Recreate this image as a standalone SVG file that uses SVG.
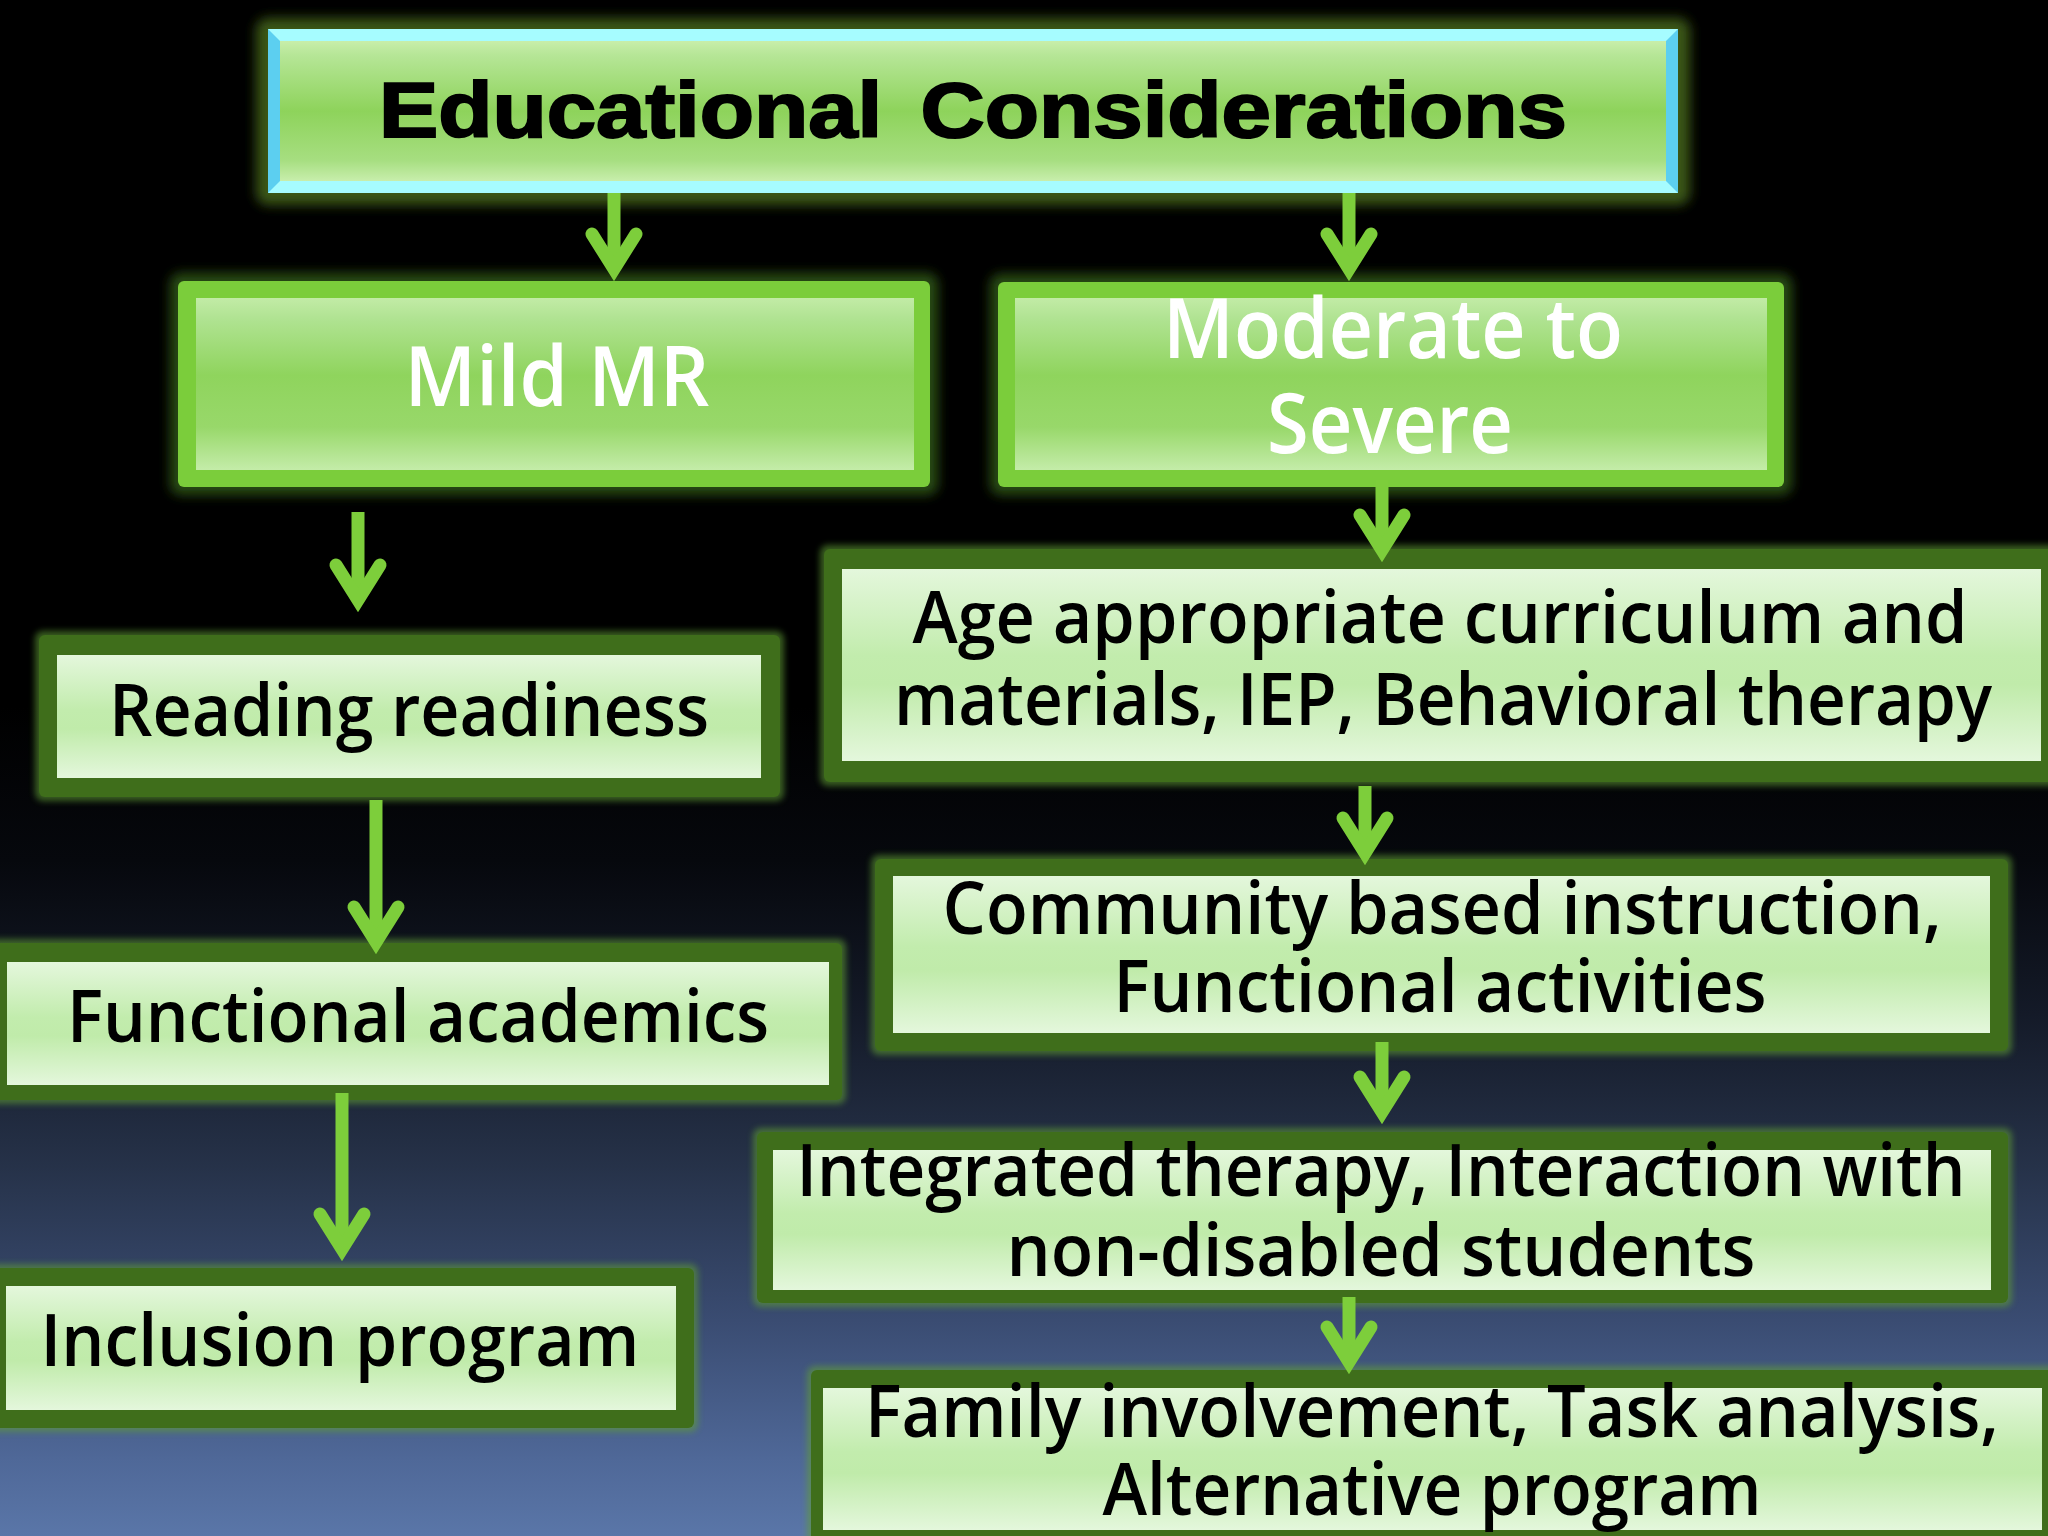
<svg xmlns="http://www.w3.org/2000/svg" width="2048" height="1536" viewBox="0 0 2048 1536">
<defs>
<linearGradient id="bg" x1="0" y1="0" x2="0" y2="1536" gradientUnits="userSpaceOnUse">
<stop offset="0" stop-color="#000000"/>
<stop offset="0.46" stop-color="#000000"/>
<stop offset="0.56" stop-color="#06080d"/>
<stop offset="0.66" stop-color="#141a28"/>
<stop offset="0.76" stop-color="#263249"/>
<stop offset="0.86" stop-color="#3a4c72"/>
<stop offset="0.95" stop-color="#4f6898"/>
<stop offset="1" stop-color="#5a76a8"/>
</linearGradient>
<linearGradient id="paleFill" x1="0" y1="0" x2="0" y2="1">
<stop offset="0" stop-color="#e4f7dc"/>
<stop offset="0.45" stop-color="#c2ecad"/>
<stop offset="0.6" stop-color="#c0ebaa"/>
<stop offset="1" stop-color="#e4f7dc"/>
</linearGradient>
<linearGradient id="brightFill" x1="0" y1="0" x2="0" y2="1">
<stop offset="0" stop-color="#c2eba6"/>
<stop offset="0.12" stop-color="#b0e392"/>
<stop offset="0.45" stop-color="#8fd45d"/>
<stop offset="0.75" stop-color="#98d86a"/>
<stop offset="1" stop-color="#c4eca9"/>
</linearGradient>
<linearGradient id="titleFill" x1="0" y1="0" x2="0" y2="1">
<stop offset="0" stop-color="#c8eeaa"/>
<stop offset="0.1" stop-color="#b6e697"/>
<stop offset="0.5" stop-color="#8ed35b"/>
<stop offset="0.85" stop-color="#a6de80"/>
<stop offset="1" stop-color="#c8eeac"/>
</linearGradient>
<filter id="blur6" x="-10%" y="-20%" width="120%" height="140%"><feGaussianBlur stdDeviation="6"/></filter>
<filter id="blur3" x="-10%" y="-20%" width="120%" height="140%"><feGaussianBlur stdDeviation="3"/></filter>
<marker id="ah" markerUnits="userSpaceOnUse" orient="auto" refX="0" refY="0" markerWidth="80" markerHeight="80" overflow="visible">
<path d="M-28,-22 L7,0 L-28,22" fill="none" stroke="#7dce3b" stroke-width="13" stroke-linecap="round" stroke-linejoin="miter" stroke-miterlimit="6"/>
</marker>
<style>
.pale-glow{fill:#5e9c36;opacity:0.6;filter:url(#blur3)}
.pale-border{fill:#3f6e1b}
.pale-inner{fill:url(#paleFill)}
.bright-glow{fill:#2f5514;opacity:0.9;filter:url(#blur6)}
.bright-border{fill:#7bcd3b}
.bright-inner{fill:url(#brightFill)}
.t{font-family:"Open Sans","Noto Sans","DejaVu Sans",sans-serif;font-size:72px;font-weight:600;fill:#000;text-anchor:middle}
.tw{font-family:"Open Sans","Noto Sans","DejaVu Sans",sans-serif;font-size:84px;font-weight:600;fill:#ffffff;text-anchor:middle}
.conn line{stroke:#7dce3b;stroke-width:13;marker-end:url(#ah)}
</style>
</defs>
<rect x="0" y="0" width="2048" height="1536" fill="url(#bg)"/>

<g id="title">
<rect x="256" y="18" width="1434" height="187" rx="12" fill="#3a5714" filter="url(#blur6)"/>
<rect x="268" y="29" width="1410" height="164" fill="#a6fcff"/>
<polygon points="268,29 280,41 280,181 268,193" fill="#5ccff0"/>
<polygon points="1678,29 1666,41 1666,181 1678,193" fill="#5ccff0"/>
<rect x="280" y="41" width="1386" height="140" fill="url(#titleFill)"/>
<text x="973" y="137" font-family="'Liberation Sans',Arial,sans-serif" font-weight="700" font-size="78" word-spacing="12" text-anchor="middle" textLength="1188" lengthAdjust="spacingAndGlyphs" fill="#000" stroke="#000" stroke-width="2">Educational Considerations</text>
</g>

<g id="mild">
<rect x="170" y="273" width="768" height="222" rx="10" class="bright-glow"/>
<rect x="178" y="281" width="752" height="206" rx="6" class="bright-border"/>
<rect x="196" y="298" width="718" height="172" class="bright-inner"/>
<text x="557" y="406" class="tw" textLength="305" lengthAdjust="spacingAndGlyphs">Mild MR</text>
</g>

<g id="moderate">
<rect x="990" y="274" width="802" height="221" rx="10" class="bright-glow"/>
<rect x="998" y="282" width="786" height="205" rx="6" class="bright-border"/>
<rect x="1015" y="298" width="752" height="172" class="bright-inner"/>
<text x="1393" y="358" class="tw" textLength="460" lengthAdjust="spacingAndGlyphs">Moderate to</text>
<text x="1390" y="453" class="tw" textLength="246" lengthAdjust="spacingAndGlyphs">Severe</text>
</g>

<g id="reading">
<rect x="35" y="631" width="749" height="170" rx="8" class="pale-glow"/>
<rect x="39" y="635" width="741" height="162" rx="6" class="pale-border"/>
<rect x="57" y="655" width="704" height="123" class="pale-inner"/>
<text x="409" y="736" class="t" textLength="600" lengthAdjust="spacingAndGlyphs">Reading readiness</text>
</g>

<g id="functional">
<rect x="-20" y="939" width="866" height="165" rx="8" class="pale-glow"/>
<rect x="-16" y="943" width="858" height="157" rx="6" class="pale-border"/>
<rect x="7" y="962" width="822" height="123" class="pale-inner"/>
<text x="418" y="1042" class="t" textLength="702" lengthAdjust="spacingAndGlyphs">Functional academics</text>
</g>

<g id="inclusion">
<rect x="-20" y="1264" width="718" height="168" rx="8" class="pale-glow"/>
<rect x="-16" y="1268" width="710" height="160" rx="6" class="pale-border"/>
<rect x="6" y="1286" width="670" height="124" class="pale-inner"/>
<text x="340" y="1366" class="t" textLength="599" lengthAdjust="spacingAndGlyphs">Inclusion program</text>
</g>

<g id="age">
<rect x="820" y="545" width="1250" height="241" rx="8" class="pale-glow"/>
<rect x="824" y="549" width="1240" height="233" rx="6" class="pale-border"/>
<rect x="842" y="569" width="1199" height="192" class="pale-inner"/>
<text x="1440" y="643" class="t" textLength="1055" lengthAdjust="spacingAndGlyphs">Age appropriate curriculum and</text>
<text x="1443" y="725" class="t" textLength="1098" lengthAdjust="spacingAndGlyphs">materials, IEP, Behavioral therapy</text>
</g>

<g id="community">
<rect x="871" y="855" width="1141" height="200" rx="8" class="pale-glow"/>
<rect x="875" y="859" width="1133" height="192" rx="6" class="pale-border"/>
<rect x="893" y="876" width="1097" height="157" class="pale-inner"/>
<text x="1442" y="934" class="t" textLength="999" lengthAdjust="spacingAndGlyphs">Community based instruction,</text>
<text x="1440" y="1012" class="t" textLength="653" lengthAdjust="spacingAndGlyphs">Functional activities</text>
</g>

<g id="integrated">
<rect x="753" y="1128" width="1259" height="179" rx="8" class="pale-glow"/>
<rect x="757" y="1132" width="1251" height="171" rx="6" class="pale-border"/>
<rect x="773" y="1150" width="1218" height="140" class="pale-inner"/>
<text x="1381" y="1196" class="t" textLength="1169" lengthAdjust="spacingAndGlyphs">Integrated therapy, Interaction with</text>
<text x="1381" y="1276" class="t" textLength="749" lengthAdjust="spacingAndGlyphs">non-disabled students</text>
</g>

<g id="family">
<rect x="807" y="1366" width="1263" height="200" rx="8" class="pale-glow"/>
<rect x="811" y="1370" width="1255" height="190" rx="6" class="pale-border"/>
<rect x="823" y="1388" width="1219" height="142" class="pale-inner"/>
<text x="1432" y="1437" class="t" textLength="1134" lengthAdjust="spacingAndGlyphs">Family involvement, Task analysis,</text>
<text x="1432" y="1515" class="t" textLength="659" lengthAdjust="spacingAndGlyphs">Alternative program</text>
</g>

<g id="connectors" class="conn">
<line x1="614" y1="193" x2="614" y2="262"/>
<line x1="1349" y1="193" x2="1349" y2="262"/>
<line x1="358" y1="512" x2="358" y2="593"/>
<line x1="1382" y1="480" x2="1382" y2="543"/>
<line x1="376" y1="800" x2="376" y2="935"/>
<line x1="1365" y1="786" x2="1365" y2="846"/>
<line x1="342" y1="1093" x2="342" y2="1242"/>
<line x1="1382" y1="1042" x2="1382" y2="1105"/>
<line x1="1349" y1="1297" x2="1349" y2="1355"/>
</g>
</svg>
